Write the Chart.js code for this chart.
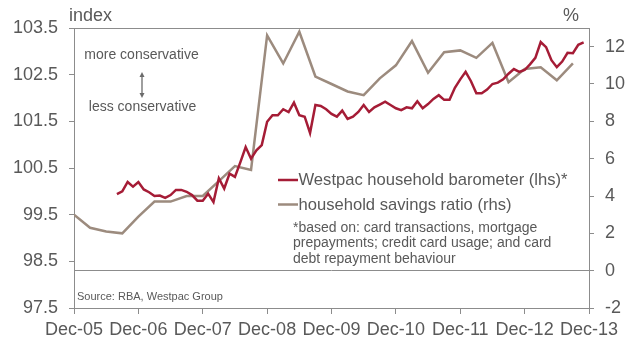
<!DOCTYPE html>
<html>
<head>
<meta charset="utf-8">
<script src="https://cdn.jsdelivr.net/npm/chart.js@4/dist/chart.umd.min.js"></script>
<style>
html,body{margin:0;padding:0;background:#fff;}
#wrap{position:relative;width:639px;height:344px;}
</style>
</head>
<body>
<div id="wrap"><canvas id="c" width="639" height="344"></canvas></div>
<script>
// x axis: months since Dec-05
const xTickLabels = ['Dec-05','Dec-06','Dec-07','Dec-08','Dec-09','Dec-10','Dec-11','Dec-12','Dec-13'];
const leftTicks = [97.5, 98.5, 99.5, 100.5, 101.5, 102.5, 103.5];
const rightTicks = [-2, 0, 2, 4, 6, 8, 10, 12];

// Westpac household barometer (lhs), monthly from Aug-06 (month 8) to Nov-13 (month 95)
const baroStartMonth = 8;
const baroValues = [
  99.94, 100.0, 100.2, 100.1, 100.2, 100.04, 99.98, 99.9, 99.91, 99.86, 99.92, 100.03,
  100.03, 99.99, 99.92, 99.8, 99.8, 99.95, 99.77, 100.28, 100.06, 100.38, 100.31, 100.62,
  100.95, 100.7, 100.88, 100.99, 101.49, 101.63, 101.63, 101.76, 101.7, 101.9, 101.63, 101.6,
  101.25, 101.85, 101.83, 101.76, 101.66, 101.6, 101.73, 101.55, 101.6, 101.7, 101.85, 101.7,
  101.8, 101.86, 101.92, 101.85, 101.78, 101.74, 101.8, 101.78, 101.93, 101.78, 101.87, 101.98,
  102.06, 101.96, 101.96, 102.22, 102.4, 102.56, 102.36, 102.1, 102.1, 102.18, 102.3, 102.33,
  102.4, 102.52, 102.62, 102.56, 102.6, 102.72, 102.86, 103.2, 103.09, 102.81, 102.66, 102.78,
  102.97, 102.96, 103.14, 103.19
];

// household savings ratio (rhs), quarterly from Dec-05 (month 0) to Sep-13 (month 93)
const savingsStartMonth = 0;
const savingsValues = [
  3.0, 2.3, 2.1, 2.0, 2.9, 3.7, 3.7, 4.0, 4.0, 4.8, 5.6, 5.4,
  12.6, 11.1, 12.8, 10.4, 10.0, 9.6, 9.4, 10.3, 11.0, 12.3, 10.6, 11.7,
  11.8, 11.4, 12.2, 10.1, 10.8, 10.9, 10.2, 11.1
];

const seriesNames = ['Westpac household barometer (lhs)*', 'household savings ratio (rhs)'];
const footnoteLines = ['*based on: card transactions, mortgage', 'prepayments; credit card usage; and card', 'debt repayment behaviour'];

const RED = '#A51C36';
const BROWN = '#9C8B7E';
const AXIS = '#8c8c8c';
const TEXT = '#595959';
const FONT = '"Liberation Sans", Arial, sans-serif';

const baroData = baroValues.map((v, i) => ({x: baroStartMonth + i, y: v}));
const savData = savingsValues.map((v, i) => ({x: savingsStartMonth + i * 3, y: v}));

const annot = {
  id: 'annot',
  afterDraw(chart) {
    const ctx = chart.ctx;
    ctx.save();
    ctx.fillStyle = TEXT;
    // axis titles
    ctx.font = '18px ' + FONT;
    ctx.textBaseline = 'middle';
    ctx.textAlign = 'left';
    ctx.fillText('index', 69, 16);
    ctx.textAlign = 'right';
    ctx.fillText('%', 579, 16);
    // conservative notes
    ctx.font = '14px ' + FONT;
    ctx.textAlign = 'center';
    ctx.fillText('more conservative', 141.5, 55);
    ctx.fillText('less conservative', 142.5, 107);
    // double arrow
    ctx.strokeStyle = '#6b6b6b';
    ctx.fillStyle = '#6b6b6b';
    ctx.lineWidth = 1.3;
    ctx.beginPath(); ctx.moveTo(142, 76); ctx.lineTo(142, 94); ctx.stroke();
    ctx.beginPath(); ctx.moveTo(142, 72); ctx.lineTo(139.5, 77); ctx.lineTo(144.5, 77); ctx.closePath(); ctx.fill();
    ctx.beginPath(); ctx.moveTo(142, 98); ctx.lineTo(139.5, 93); ctx.lineTo(144.5, 93); ctx.closePath(); ctx.fill();
    // legend
    const legY = [180, 204.5];
    const cols = [RED, BROWN];
    ctx.font = '16.6px ' + FONT;
    ctx.textAlign = 'left';
    for (let i = 0; i < 2; i++) {
      ctx.strokeStyle = cols[i];
      ctx.lineWidth = 2.5;
      ctx.beginPath(); ctx.moveTo(278, legY[i]); ctx.lineTo(298, legY[i]); ctx.stroke();
      ctx.fillStyle = TEXT;
      ctx.fillText(seriesNames[i], 298.5, legY[i] + 0.5);
    }
    // footnote
    ctx.font = '14px ' + FONT;
    const fnY = [228, 243.5, 259];
    footnoteLines.forEach((t, i) => ctx.fillText(t, 293, fnY[i]));
    // source
    ctx.font = '11px ' + FONT;
    ctx.fillText('Source: RBA, Westpac Group', 77, 297);
    ctx.restore();
  }
};

new Chart(document.getElementById('c'), {
  type: 'line',
  data: {
    datasets: [
      {label: seriesNames[0], data: baroData, yAxisID: 'yL', borderColor: RED, borderWidth: 2.5,
       pointRadius: 0, tension: 0, fill: false},
      {label: seriesNames[1], data: savData, yAxisID: 'yR', borderColor: BROWN, borderWidth: 2.5,
       pointRadius: 0, tension: 0, fill: false}
    ]
  },
  options: {
    responsive: false,
    animation: false,
    events: [],
    layout: {padding: {top: 28, left: 0, right: 0, bottom: 0}},
    plugins: {legend: {display: false}, tooltip: {enabled: false}},
    scales: {
      x: {
        type: 'linear', min: 0, max: 96,
        afterFit(s) { s.height = 36; },
        afterBuildTicks(s) { s.ticks = xTickLabels.map((_, i) => ({value: i * 12})); },
        ticks: {
          callback: (v) => xTickLabels[Math.round(v / 12)],
          color: TEXT, font: {family: FONT, size: 18}, padding: 5,
          maxRotation: 0, autoSkip: false
        },
        grid: {drawOnChartArea: false, tickLength: 6, tickColor: AXIS, color: AXIS},
        border: {display: true, color: AXIS, width: 1}
      },
      yL: {
        position: 'left', min: 97.5, max: 103.5,
        afterFit(s) { s.width = 74; },
        afterBuildTicks(s) { s.ticks = leftTicks.map(v => ({value: v})); },
        ticks: {
          callback: (v) => Number(v).toFixed(1),
          color: TEXT, font: {family: FONT, size: 18}, padding: 11
        },
        grid: {
          drawOnChartArea: true, tickLength: 5, tickColor: AXIS,
          color: (c) => (c.tick && c.tick.value === 103.5) ? AXIS : 'rgba(0,0,0,0)'
        },
        border: {display: true, color: AXIS, width: 1}
      },
      yR: {
        position: 'right', min: -2, max: 13,
        afterFit(s) { s.width = 50; },
        afterBuildTicks(s) { s.ticks = rightTicks.map(v => ({value: v})); },
        ticks: {
          callback: (v) => String(v),
          color: TEXT, font: {family: FONT, size: 18}, padding: 11
        },
        grid: {
          drawOnChartArea: true, tickLength: 5, tickColor: AXIS,
          color: (c) => (c.tick && c.tick.value === 0) ? AXIS : 'rgba(0,0,0,0)'
        },
        border: {display: true, color: AXIS, width: 1}
      }
    }
  },
  plugins: [annot]
});
</script>
</body>
</html>
